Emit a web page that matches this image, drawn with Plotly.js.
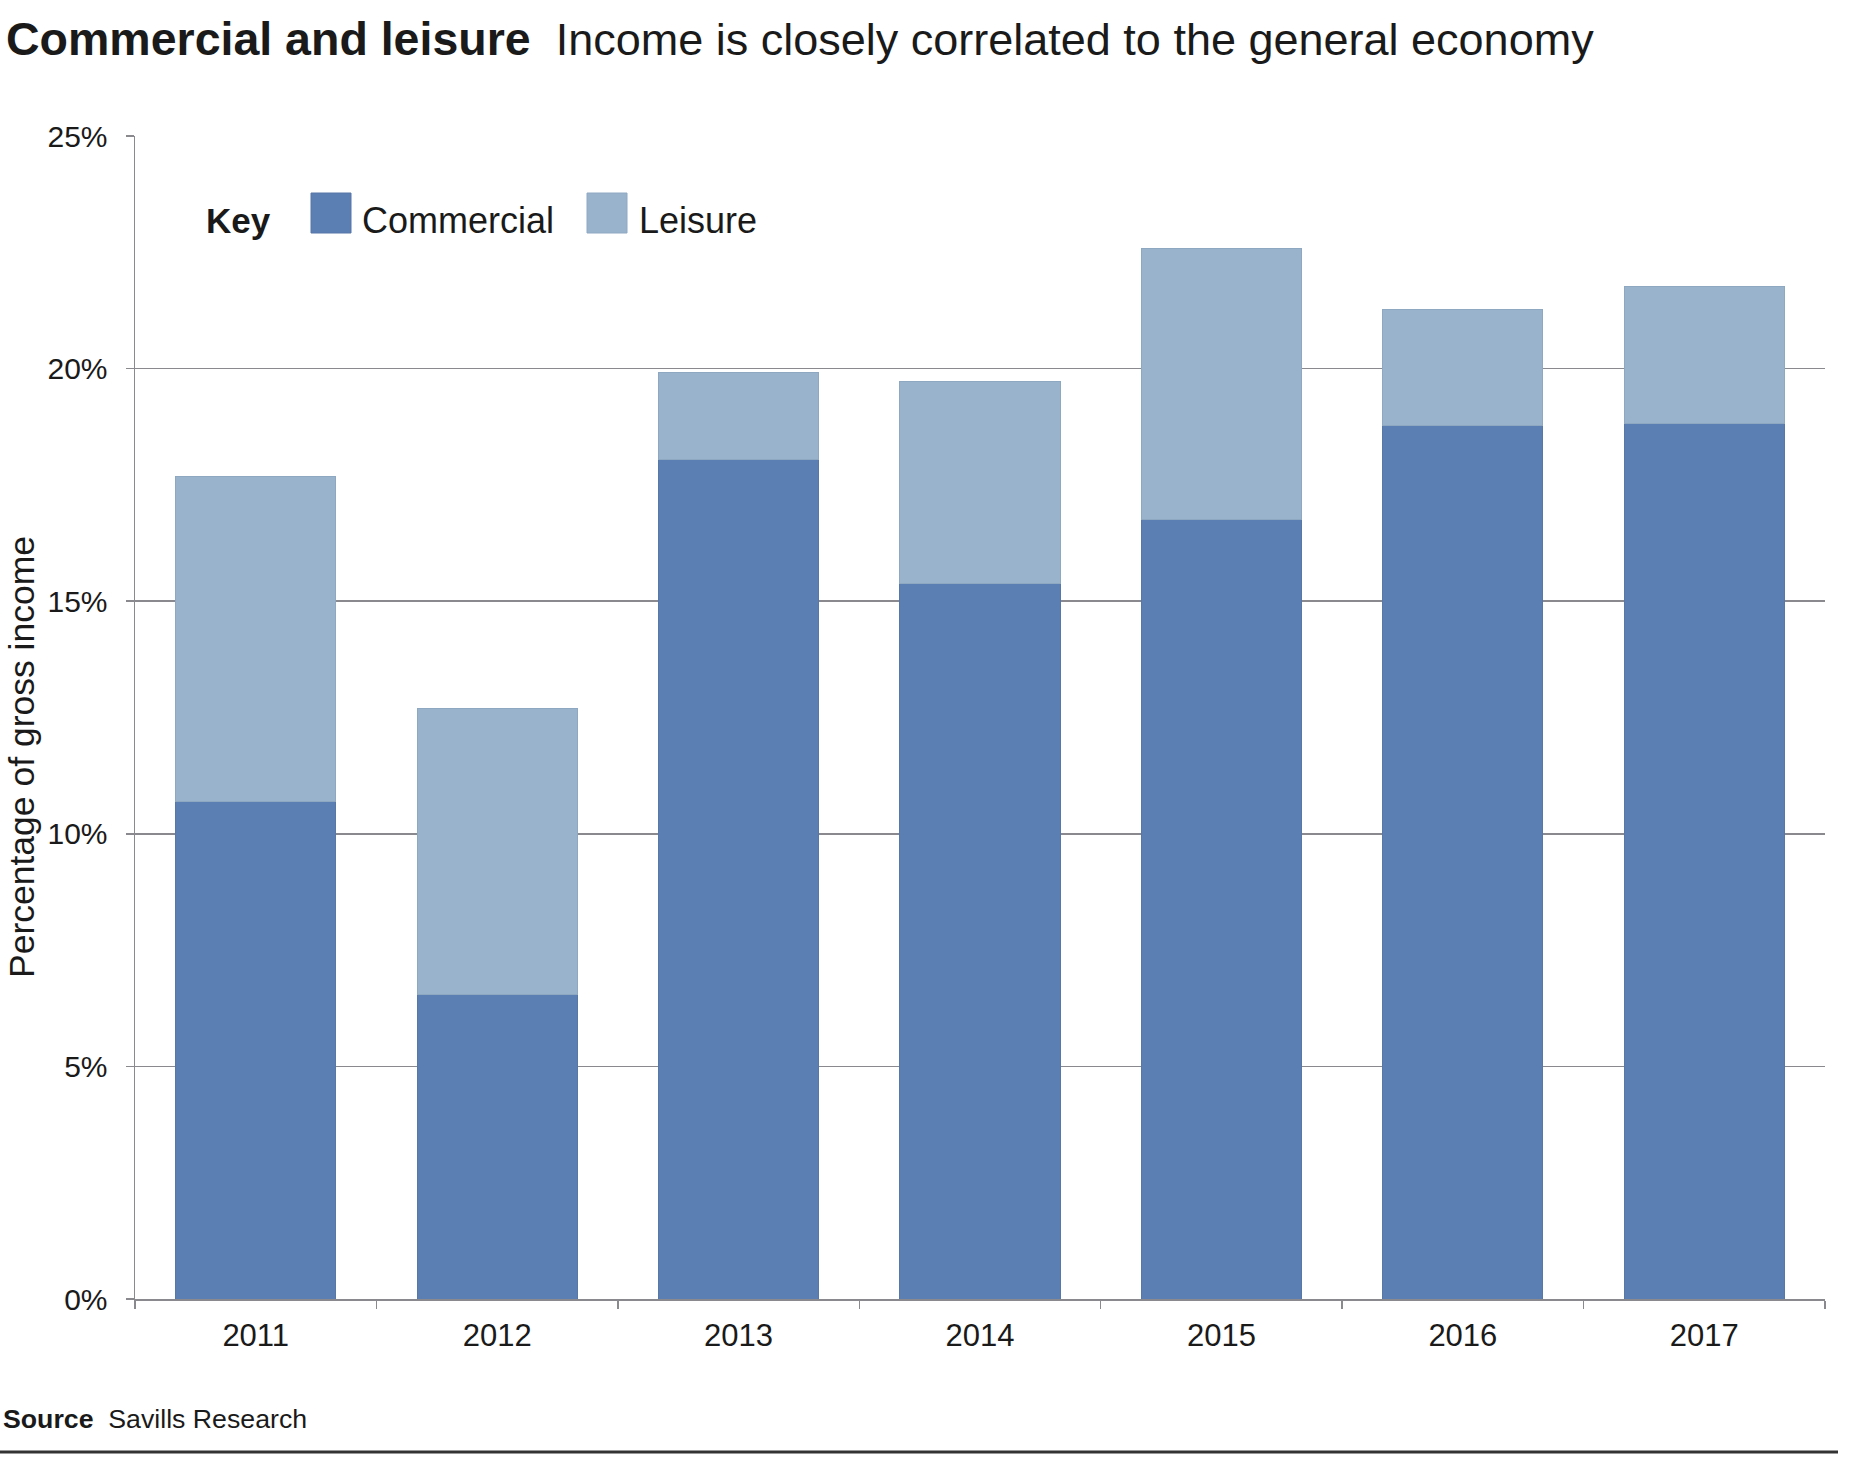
<!DOCTYPE html>
<html><head><meta charset="utf-8">
<script src="https://cdn.plot.ly/plotly-3.0.1.min.js"></script>
<style>html,body{margin:0;padding:0;background:#fff;} #chart{width:1857px;height:1475px;}</style>
</head><body><div id="chart"></div>
<script>
// ---- data ----
const years = ['2011','2012','2013','2014','2015','2016','2017'];
const commercial = [10.70, 6.55, 18.05, 15.37, 16.75, 18.77, 18.83];
const leisure = [6.97, 6.15, 1.87, 4.35, 5.84, 2.50, 2.93];
const seriesNames = ['Commercial', 'Leisure'];
const seriesColors = ['#5c7fb3', '#9ab3cc'];
const titleBold = 'Commercial and leisure';
const titleRest = 'Income is closely correlated to the general economy';
const yTitle = 'Percentage of gross income';
const sourceBold = 'Source';
const sourceRest = 'Savills Research';
const legendTitle = 'Key';

// ---- layout helpers ----
const W = 1857, H = 1475;
const M = {l: 135, r: 32, t: 136, b: 176};
const PW = W - M.l - M.r, PH = H - M.t - M.b;
const px = x => (x - M.l) / PW;
const py = y => (H - M.b - y) / PH;
const FONT = 'Liberation Sans, Arial, Helvetica, sans-serif';
const INK = '#1a1a1a';
const GRID = '#8a8a8e';

const traces = [
  {type: 'bar', x: years, y: commercial, name: seriesNames[0],
   marker: {color: seriesColors[0], line: {color: '#5677a8', width: 1}}},
  {type: 'bar', x: years, y: leisure, name: seriesNames[1],
   marker: {color: seriesColors[1], line: {color: '#8fa8c2', width: 1}}}
];

const ann = (text, x, y, size, extra) => Object.assign({
  text, x: px(x), y: py(y), xref: 'paper', yref: 'paper', showarrow: false,
  xanchor: 'left', yanchor: 'middle', font: {family: FONT, size, color: INK}
}, extra || {});

const layout = {
  width: W, height: H,
  margin: M,
  paper_bgcolor: '#fff', plot_bgcolor: '#fff',
  barmode: 'stack', bargap: 0.337,
  showlegend: false,
  font: {family: FONT, color: INK},
  xaxis: {
    type: 'category', tickson: 'boundaries', ticks: 'outside', ticklen: 8,
    tickcolor: GRID, tickwidth: 1.5, showline: true, linecolor: GRID, linewidth: 1.5,
    showgrid: false, tickfont: {family: FONT, size: 31, color: INK},
    ticklabelstandoff: 8, fixedrange: true
  },
  yaxis: {
    range: [0, 25], dtick: 5, ticksuffix: '%', ticks: 'outside', ticklen: 8,
    tickcolor: GRID, tickwidth: 1.5, showline: true, linecolor: GRID, linewidth: 1.5,
    showgrid: true, gridcolor: GRID, gridwidth: 1.5, zeroline: false,
    tickfont: {family: FONT, size: 30, color: INK}, ticklabelstandoff: 12, fixedrange: true
  },
  shapes: [
    {type: 'rect', xref: 'paper', yref: 'paper', x0: px(311), x1: px(351), y0: py(193), y1: py(233),
     fillcolor: seriesColors[0], line: {color: '#5677a8', width: 1}},
    {type: 'rect', xref: 'paper', yref: 'paper', x0: px(587), x1: px(627), y0: py(193), y1: py(233),
     fillcolor: seriesColors[1], line: {color: '#8fa8c2', width: 1}},
    {type: 'line', xref: 'paper', yref: 'paper', x0: px(0), x1: px(1838), y0: py(1452), y1: py(1452),
     line: {color: '#333333', width: 3}}
  ],
  annotations: [
    ann('<b><span style="font-size:46.5px">' + titleBold + '</span></b>&nbsp;&nbsp;' + titleRest, 4, 39, 45),
    ann(yTitle, 22, 757, 35.5, {xanchor: 'center', textangle: -90, borderpad: 0}),
    ann('<b>' + legendTitle + '</b>', 204, 221, 35),
    ann(seriesNames[0], 360, 221, 36),
    ann(seriesNames[1], 637, 221, 36),
    ann('<b>' + sourceBold + '</b>&nbsp;&nbsp;' + sourceRest, 1, 1419, 26.7)
  ]
};

Plotly.newPlot('chart', traces, layout, {displayModeBar: false, staticPlot: true});
</script>
</body></html>
